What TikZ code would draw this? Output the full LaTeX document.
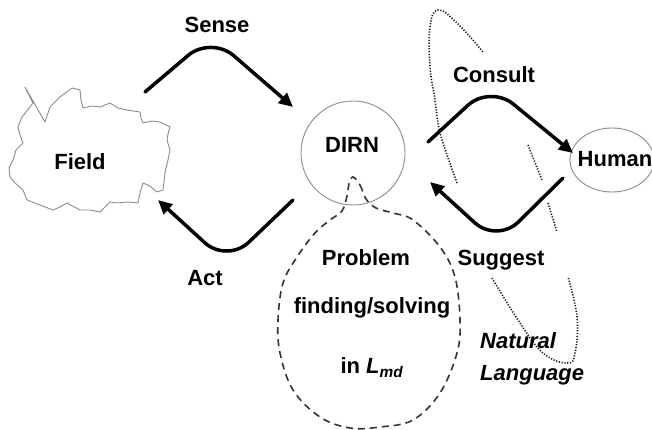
\documentclass[tikz,border=0pt]{standalone}
\usepackage{fontspec}
\setmainfont{Liberation Sans}
\usetikzlibrary{arrows.meta,shapes.geometric}
\definecolor{linegray}{RGB}{140,140,140}
\tikzset{
  flow/.style={
    line width=3.5pt,
    line cap=round,
    rounded corners=30pt,
    -{Triangle[length=14pt,width=13pt]}
  },
  label-text/.style={font=\fontsize{22}{26}\selectfont\bfseries, inner sep=0pt, anchor=base},
  thin-gray/.style={draw=linegray, line width=0.9pt},
  agent/.style={thin-gray, circle, minimum size=104pt, inner sep=0pt},
  person/.style={thin-gray, ellipse, minimum width=84pt, minimum height=64pt, inner sep=0pt},
  region-dashed/.style={draw=black!80, line width=1.6pt, dash pattern=on 7pt off 5pt},
  region-dotted/.style={draw=black!90, line width=1.6pt, dash pattern=on 1.2pt off 1.6pt}
}

\begin{document}
\begin{tikzpicture}[x=1pt, y=-1pt]
  \useasboundingbox (0,0) rectangle (652,430);
  % Field cloud
  \draw[thin-gray, line join=round] (25,87) -- (45,122) -- (50,107) -- (60,97) -- (72,88) -- (80,90)
    -- (81,100) -- (83,108) -- (92,106) -- (100,107) -- (110,103) -- (118,108) -- (127,110)
    -- (140,112) -- (141,118) -- (143,123) -- (152,121) -- (160,122) -- (170,127) -- (168,134)
    -- (167,140) -- (170,150) -- (168,160) -- (166,168) -- (165,173) -- (164,182) -- (163,190)
    -- (157,192) -- (150,186) -- (143,183) -- (140,193) -- (138,203) -- (128,202) -- (117,203)
    -- (110,202) -- (104,208) -- (100,212) -- (90,210) -- (80,210) -- (67,203) -- (60,207)
    -- (53,210) -- (40,205) -- (27,200) -- (23,190) -- (15,183) -- (10,177) -- (9,168)
    -- (13,160) -- (16,150) -- (23,143) -- (20,135) -- (18,127) -- (22,117) -- (30,107)
    -- (33,103) -- cycle;
  \node[label-text] (field) at (80,170) {Field};

  % DIRN and Human
  \node[agent] (dirn) at (353,153) {};
  \node[label-text] (dirn-label) at (352,153) {DIRN};
  \node[person] (human) at (612,160) {};
  \node[label-text] (human-label) at (615,167) {Human};

  % Problem finding/solving region
  \draw[region-dashed] plot[smooth cycle, tension=0.6] coordinates {
    (353,177) (360,185) (366,199) (376,208) (393,213) (413,220) (440,247) (455,277)
    (460,320) (457,353) (440,393) (413,420) (380,427) (350,428) (320,417) (293,390)
    (280,353) (278,320) (283,283) (297,257) (315,233) (330,220) (342,211) (347,196) (349,184)};
  \node[label-text] (prob-a) at (366,265) {Problem};
  \node[label-text] (prob-b) at (372,313) {finding/solving};
  \node[label-text] (prob-c) at (372,373) {in \textit{L}\textsubscript{\textit{md}}};

  % Natural language boundary
  \draw[region-dotted] plot[smooth, tension=0.7] coordinates {
    (457,183) (443,143) (438,123) (435,100) (430,67) (430,27) (438,10) (457,23) (483,52)};
  \draw[region-dotted] (528,145) -- (542,180);
  \draw[region-dotted] (548,203) -- (557,232);
  \draw[region-dotted] plot[smooth, tension=0.7] coordinates {
    (492,278) (520,323) (543,353) (567,363) (575,353) (577,317) (568,277)};
  \node[label-text, anchor=base west, font=\fontsize{22}{26}\selectfont\bfseries\itshape] (nl-a) at (480,348) {Natural};
  \node[label-text, anchor=base west, font=\fontsize{22}{26}\selectfont\bfseries\itshape] (nl-b) at (480,380) {Language};

  % Arrows
  \coordinate (sense-from) at (145,92);
  \coordinate (sense-to) at (293,107);
  \coordinate (act-from) at (293,200);
  \coordinate (act-to) at (158,200);
  \coordinate (consult-from) at (428,142);
  \coordinate (consult-to) at (573,153);
  \coordinate (suggest-from) at (563,178);
  \coordinate (suggest-to) at (430,182);
  \draw[flow] (sense-from) -- (211,36) -- (sense-to);
  \draw[flow] (act-from) -- (227,263) -- (act-to);
  \draw[flow] (consult-from) -- (490,85) -- (consult-to);
  \draw[flow] (suggest-from) -- (497,243) -- (suggest-to);
  \node[label-text] (sense) at (217,33) {Sense};
  \node[label-text] (act) at (205,285) {Act};
  \node[label-text] (consult) at (494,83) {Consult};
  \node[label-text] (suggest) at (501,265) {Suggest};
\end{tikzpicture}
\end{document}
